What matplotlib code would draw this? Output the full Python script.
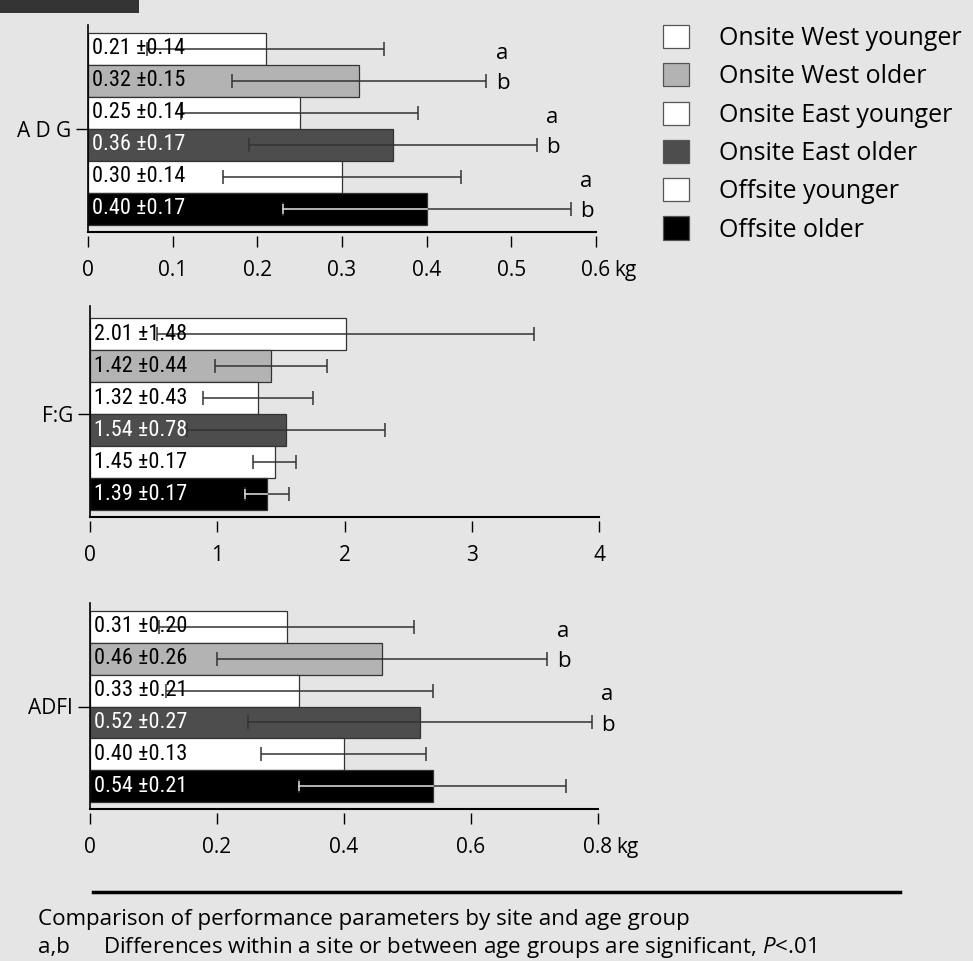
import numpy as np
import matplotlib
matplotlib.use('Agg')
import matplotlib.pyplot as plt
from matplotlib.patches import Patch, Rectangle
from matplotlib.lines import Line2D

# groups and bar colours (same order in every panel, top to bottom)
groups = ['Onsite West younger', 'Onsite West older', 'Onsite East younger',
          'Onsite East older', 'Offsite younger', 'Offsite older']
bar_colors = ['#ffffff', '#b3b3b3', '#ffffff', '#4d4d4d', '#ffffff', '#000000']
text_colors = ['black', 'black', 'black', 'white', 'black', 'white']

# average daily gain, kg
adg_mean = [0.21, 0.32, 0.25, 0.36, 0.30, 0.40]
adg_sd = [0.14, 0.15, 0.14, 0.17, 0.14, 0.17]
adg_sig = [True, True, True]

# feed to gain
fg_mean = [2.01, 1.42, 1.32, 1.54, 1.45, 1.39]
fg_sd = [1.48, 0.44, 0.43, 0.78, 0.17, 0.17]
fg_sig = [False, False, False]

# average daily feed intake, kg
adfi_mean = [0.31, 0.46, 0.33, 0.52, 0.40, 0.54]
adfi_sd = [0.20, 0.26, 0.21, 0.27, 0.13, 0.21]
adfi_sig = [True, True, False]

adg_ticks = [0, 0.1, 0.2, 0.3, 0.4, 0.5, 0.6]
adg_ticklabels = ['0', '0.1', '0.2', '0.3', '0.4', '0.5', '0.6']
fg_ticks = [0, 1, 2, 3, 4]
fg_ticklabels = ['0', '1', '2', '3', '4']
adfi_ticks = [0, 0.2, 0.4, 0.6, 0.8]
adfi_ticklabels = ['0', '0.2', '0.4', '0.6', '0.8']

BG = '#e5e5e5'
W, H = 973, 961

plt.rcParams['font.family'] = ['Open Sans', 'DejaVu Sans']
plt.rcParams['mathtext.fontset'] = 'custom'
plt.rcParams['mathtext.rm'] = 'Open Sans'
plt.rcParams['mathtext.it'] = 'Open Sans:italic'

# the numbers inside the bars are set in a condensed face
NARROW = ['Roboto Condensed', 'DejaVu Sans']

fig = plt.figure(figsize=(W / 100, H / 100), dpi=100, facecolor=BG)


def px_axes(left, top, right, bottom):
    ax = fig.add_axes([left / W, 1 - bottom / H, (right - left) / W, (bottom - top) / H])
    ax.set_facecolor(BG)
    return ax


def draw_panel(box, bar_top, bar_bottom, means, sds, ticks, ticklabels, ylabel, unit, sig):
    left, top, right, bottom = box
    ax = px_axes(left, top, right, bottom)
    y = np.arange(len(means))
    ax.barh(y, means, height=1, color=bar_colors, edgecolor='#333333', linewidth=0.9, zorder=2)
    ax.errorbar(means, y, xerr=sds, fmt='none', ecolor='#333333', elinewidth=1.1,
                capsize=5, capthick=1.1, zorder=3)
    # inner part of the error bar looks light on the black bar
    for i, (m, s) in enumerate(zip(means, sds)):
        if bar_colors[i] == '#000000':
            ax.plot([m - s, m], [i, i], color='#d9d9d9', lw=1.1, zorder=4)
            ax.plot([m - s], [i], marker='|', ms=7, mew=1.1, color='#d9d9d9', zorder=4)
    for i, (m, s) in enumerate(zip(means, sds)):
        ax.annotate(f'{m:.2f} \u00b1{s:.2f}', xy=(0, i), xytext=(3, 0),
                    textcoords='offset points', ha='left', va='center',
                    color=text_colors[i], zorder=5, family=NARROW, fontsize=16)
    # significance letters next to the older group's error bar
    for k, flag in enumerate(sig):
        if not flag:
            continue
        end = means[2 * k + 1] + sds[2 * k + 1]
        ax.annotate('a', xy=(end, 2 * k), xytext=(7, -3), textcoords='offset points',
                    ha='left', va='center', fontsize=16)
        ax.annotate('b', xy=(end, 2 * k + 1), xytext=(7, -2), textcoords='offset points',
                    ha='left', va='center', fontsize=16)

    bar_px = (bar_bottom - bar_top) / len(means)
    ymax = len(means) - 0.5 + (bottom - bar_bottom) / bar_px
    ax.set_ylim(ymax, ymax - (bottom - top) / bar_px)
    ax.set_xlim(ticks[0], ticks[-1])

    for side in ['top', 'right']:
        ax.spines[side].set_visible(False)
    ax.spines['left'].set_linewidth(1.2)
    ax.spines['bottom'].set_position(('outward', 3))
    ax.spines['bottom'].set_visible(False)
    ax.axhline(ymax, color='black', lw=1.5, clip_on=False, zorder=6)

    ax.set_yticks([len(means) / 2 - 0.5])
    ax.set_yticklabels([ylabel])
    ax.tick_params(axis='y', length=9, width=1, pad=3, labelsize=15)
    ax.set_xticks(ticks)
    labels = ax.set_xticklabels(ticklabels)
    ax.tick_params(axis='x', length=8, width=1, pad=9, labelsize=15)
    if unit:
        ax.annotate(unit, xy=(1, 0), xycoords=labels[-1], xytext=(3, 0),
                    textcoords='offset points', ha='left', va='bottom', fontsize=15)
    return ax


draw_panel((88, 25, 596, 232), 33, 225, adg_mean, adg_sd, adg_ticks, adg_ticklabels,
           'A D G', 'kg', adg_sig)
draw_panel((90, 306, 599, 517), 318, 510, fg_mean, fg_sd, fg_ticks, fg_ticklabels,
           'F:G', '', fg_sig)
draw_panel((89.5, 603, 598, 809), 611, 802, adfi_mean, adfi_sd, adfi_ticks, adfi_ticklabels,
           'ADFI', 'kg', adfi_sig)

# legend
handles = [Patch(facecolor=c, edgecolor='#555555', linewidth=0.9) for c in bar_colors]
fig.legend(handles, groups, loc='upper left', bbox_to_anchor=(663 / W, 1 - 25 / H),
           frameon=False, fontsize=18, handlelength=1.04, handleheight=1.04,
           handletextpad=1.2, labelspacing=0.49, borderpad=0, borderaxespad=0)

# cut-off figure tab at the top left
fig.patches.append(Rectangle((0, 1 - 13 / H), 139 / W, 13 / H, transform=fig.transFigure,
                             facecolor='#333333', edgecolor='none'))

# caption
fig.lines.append(Line2D([93 / W, 900 / W], [1 - 892 / H, 1 - 892 / H],
                        transform=fig.transFigure, color='black', lw=2.5))
fig.text(38 / W, 1 - 925 / H, 'Comparison of performance parameters by site and age group',
         fontsize=16.1, va='baseline', ha='left')
fig.text(38 / W, 1 - 953 / H, 'a,b', fontsize=16.1, va='baseline', ha='left')
fig.text(103 / W, 1 - 953 / H,
         r'Differences within a site or between age groups are significant, $\it{P}$<.01',
         fontsize=16.1, va='baseline', ha='left')

fig.savefig('out.png', dpi=100, facecolor=BG)
